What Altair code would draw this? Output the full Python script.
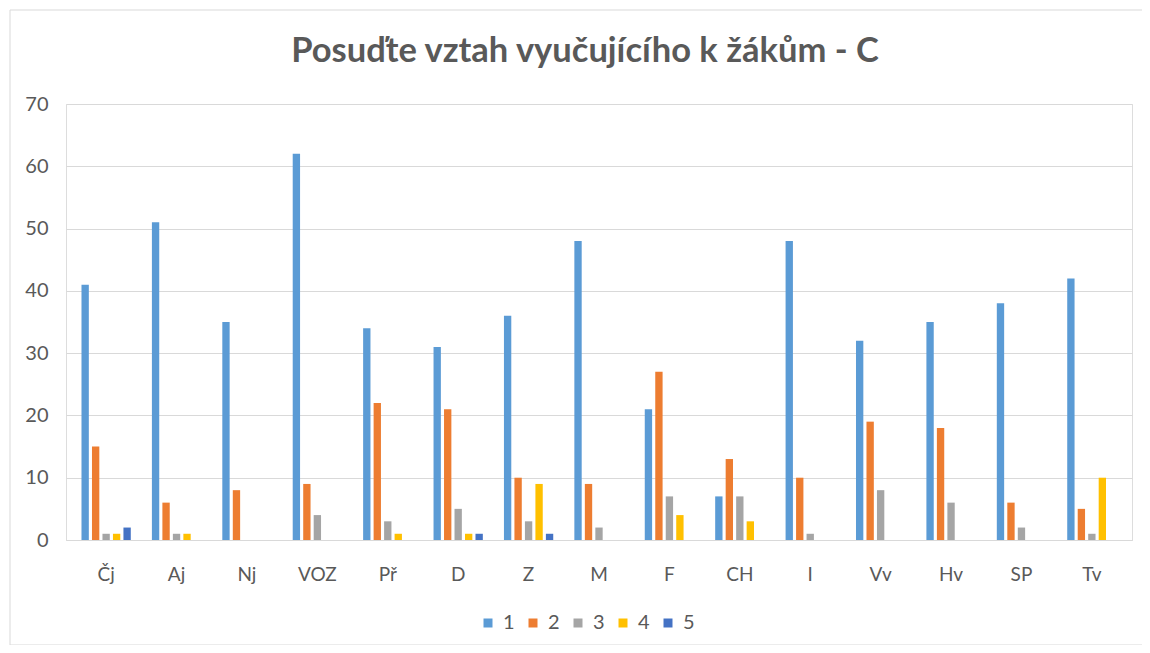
import altair as alt
import pandas as pd

subjects = ["Čj", "Aj", "Nj", "VOZ", "Př", "D", "Z", "M", "F", "CH", "I", "Vv", "Hv", "SP", "Tv"]
series = ["1", "2", "3", "4", "5"]
s1 = [41, 51, 35, 62, 34, 31, 36, 48, 21, 7, 48, 32, 35, 38, 42]
s2 = [15, 6, 8, 9, 22, 21, 10, 9, 27, 13, 10, 19, 18, 6, 5]
s3 = [1, 1, 0, 4, 3, 5, 3, 2, 7, 7, 1, 8, 6, 2, 1]
s4 = [1, 1, 0, 0, 1, 1, 9, 0, 4, 3, 0, 0, 0, 0, 10]
s5 = [2, 0, 0, 0, 0, 1, 1, 0, 0, 0, 0, 0, 0, 0, 0]
colors = ["#5B9BD5", "#ED7D31", "#A5A5A5", "#FFC000", "#4472C4"]

rows = []
for name, vals in zip(series, [s1, s2, s3, s4, s5]):
    for subj, v in zip(subjects, vals):
        rows.append({"predmet": subj, "hodnoceni": name, "pocet": v})
df = pd.DataFrame(rows)

W, H = 1066, 436
FONT = "Lato"
GREY = "#595959"

bars = alt.Chart(df).mark_bar().encode(
    x=alt.X("predmet:N", sort=subjects, title=None,
            scale=alt.Scale(paddingInner=0.3, paddingOuter=0.22),
            axis=alt.Axis(labelAngle=0, labelFontSize=19, labelColor=GREY, labelFont=FONT,
                          ticks=False, domain=True, domainColor="#D9D9D9", labelPadding=25,
                          grid=False)),
    xOffset=alt.XOffset("hodnoceni:N", sort=series, scale=alt.Scale(paddingInner=0.3)),
    y=alt.Y("pocet:Q", title=None,
            scale=alt.Scale(domain=[0, 70]),
            axis=alt.Axis(values=[0, 10, 20, 30, 40, 50, 60, 70], labelFontSize=20,
                          labelColor=GREY, labelFont=FONT, ticks=False, domain=False,
                          gridColor="#D9D9D9", labelPadding=18)),
    color=alt.Color("hodnoceni:N", sort=series,
                    scale=alt.Scale(domain=series, range=colors),
                    legend=alt.Legend(title=None, orient="none", direction="horizontal",
                                      legendX=412, legendY=509,
                                      symbolType="square", symbolSize=81,
                                      symbolStrokeWidth=0, labelFontSize=20,
                                      labelColor=GREY, labelFont=FONT,
                                      labelOffset=5, columnPadding=8)),
)

border_df = pd.DataFrame({"k": [0]})
border = alt.Chart(border_df).mark_rect(fill=None, stroke="#D9D9D9", strokeWidth=1).encode(
    x=alt.value(-56), x2=alt.value(1077), y=alt.value(-94), y2=alt.value(541)
)

chart = alt.layer(border, bars).properties(
    width=W, height=H,
    title=alt.TitleParams("Posuďte vztah vyučujícího k žákům - C", fontSize=34.5,
                          font=FONT, fontWeight="bold", color=GREY, anchor="middle",
                          dx=-14, offset=-60),
    autosize=alt.AutoSizeParams(type="none"),
    padding={"left": 58, "top": 96, "right": 10, "bottom": 105},
).configure_view(stroke=None).configure(background="white")

chart.save("out.html", embed_options={"renderer": "svg", "actions": False})
